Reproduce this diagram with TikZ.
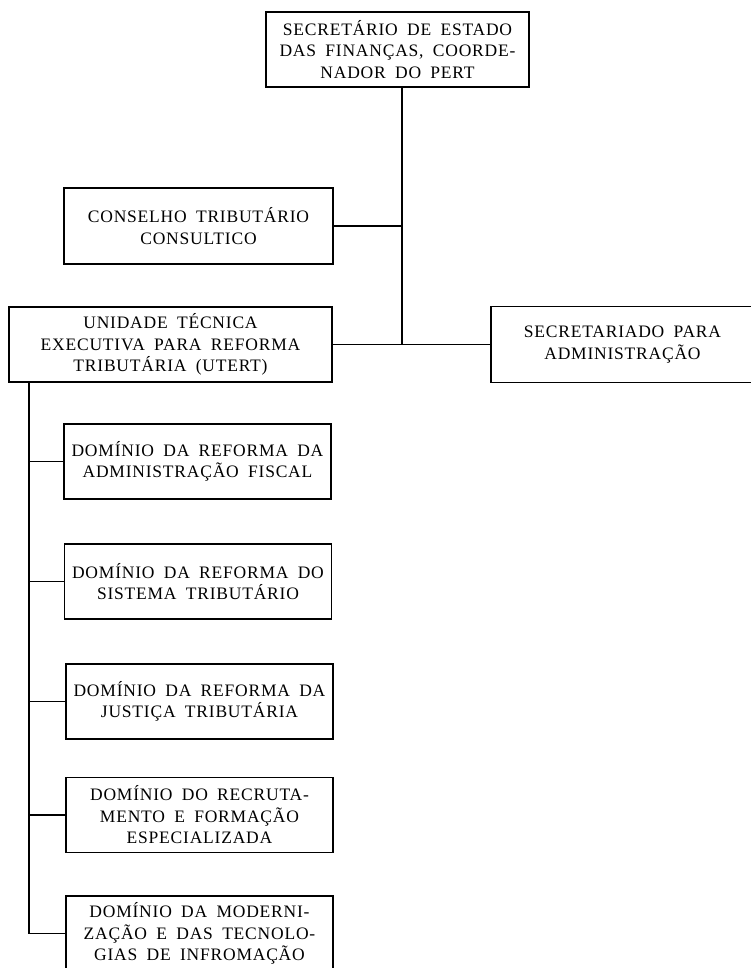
\documentclass[tikz,border=0pt]{standalone}
\usepackage{fontspec}
\setmainfont{Liberation Serif}[LetterSpace=4.5, WordSpace=1.8]
\begin{document}
\begin{tikzpicture}[x=1pt,y=-1pt,
  box/.style={draw,line width=1.5pt,align=center,inner sep=0pt,minimum height=75pt,
    font=\fontsize{17.5}{21.5}\selectfont},
  dombox/.style={box,minimum width=267pt},
  link/.style={line width=1.5pt}]
\useasboundingbox (0,0) rectangle (751,968);
\clip (0,0) rectangle (751,968);
\node[box,minimum width=263pt] (top) at (397.5,49.5) {SECRETÁRIO DE ESTADO\\DAS FINANÇAS, COORDE-\\NADOR DO PERT};
\node[box,minimum width=269pt,minimum height=76pt] (cons) at (198.5,226) {CONSELHO TRIBUTÁRIO\\CONSULTICO};
\node[box,minimum width=323pt] (ut) at (170.5,344.5) {UNIDADE TÉCNICA\\EXECUTIVA PARA REFORMA\\TRIBUTÁRIA (UTERT)};
\node[box,minimum width=263pt,minimum height=76pt] (sec) at (622.5,344.5) {SECRETARIADO PARA\\ADMINISTRAÇÃO};
\node[dombox] (d1) at (197.5,461.5) {DOMÍNIO DA REFORMA DA\\ADMINISTRAÇÃO FISCAL};
\node[dombox] (d2) at (198,581.5) {DOMÍNIO DA REFORMA DO\\SISTEMA TRIBUTÁRIO};
\node[dombox] (d3) at (199.5,701.5) {DOMÍNIO DA REFORMA DA\\JUSTIÇA TRIBUTÁRIA};
\node[dombox] (d4) at (199.5,815) {DOMÍNIO DO RECRUTA-\\MENTO E FORMAÇÃO\\ESPECIALIZADA};
\node[dombox] (d5) at (199.5,933.5) {DOMÍNIO DA MODERNI-\\ZAÇÃO E DAS TECNOLO-\\GIAS DE INFROMAÇÃO};
\coordinate (j) at (402,345);
\coordinate (trunk) at (29,0);
\draw[link] (top.south -| j) -- (j);
\draw[link] (cons.east) -- (cons.east -| j);
\draw[link] (ut.east) -- (sec.west);
\draw[link] (ut.south -| trunk) -- (d5.west -| trunk);
\foreach \d in {d1,d2,d3,d4,d5} \draw[link] (\d.west) -- (\d.west -| trunk);
\end{tikzpicture}
\end{document}
